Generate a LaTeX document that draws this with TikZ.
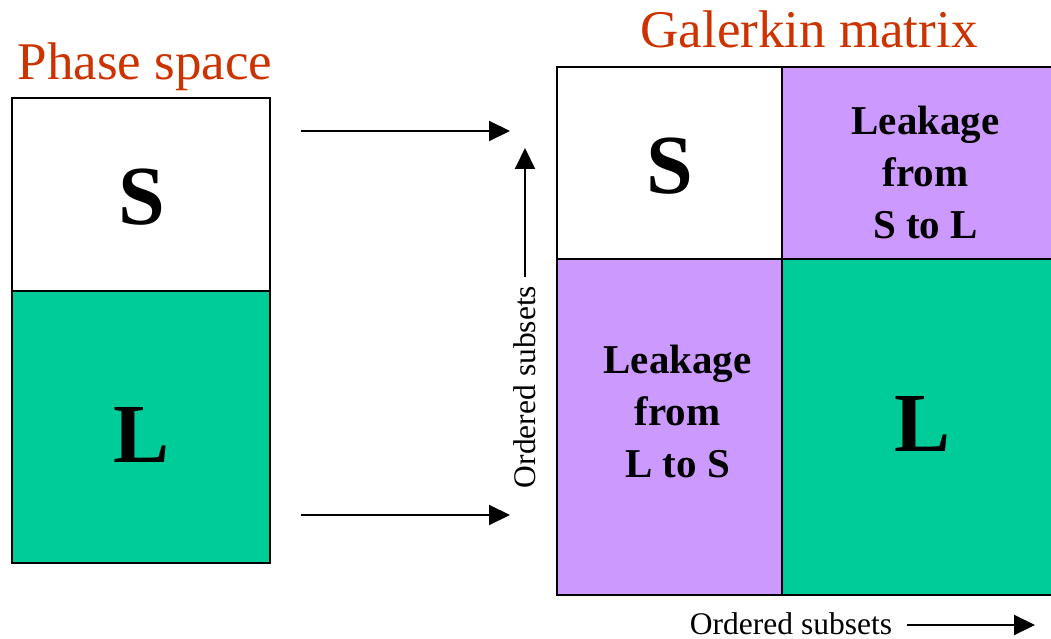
\documentclass[tikz,border=0pt]{standalone}
\usepackage{fontspec}
\setmainfont{Liberation Serif}
\usetikzlibrary{arrows.meta}
\definecolor{titlered}{HTML}{CC3300}
\definecolor{slowgreen}{HTML}{00CC99}
\definecolor{leakviolet}{HTML}{CC99FF}
\begin{document}
\begin{tikzpicture}[x=1pt,y=-1pt,
  cell/.style={draw=black, line width=2pt, inner sep=0pt},
  bigletter/.style={font=\fontsize{84}{84}\selectfont\bfseries, inner sep=0pt},
  leaktext/.style={font=\fontsize{41}{52}\selectfont\bfseries, align=center, inner sep=0pt},
  heading/.style={text=titlered, font=\fontsize{53}{53}\selectfont, anchor=base, inner sep=0pt},
  axislabel/.style={font=\fontsize{31.5}{32}\selectfont, inner sep=0pt},
  flow/.style={line width=2pt, -{Triangle[length=21pt,width=20pt]}}]
\useasboundingbox (0,0) rectangle (1051,639);

% Phase space column
\node[heading] (pstitle) at (145,80) {Phase space};
\node[cell, fill=white, minimum width=258pt, minimum height=193pt] (psS) at (141,194.5) {};
\node[cell, fill=slowgreen, minimum width=258pt, minimum height=272pt] (psL) at (141,427) {};
\node[bigletter] (psStext) at ([shift={(1,3)}]psS.center) {S};
\node[bigletter] (psLtext) at ([shift={(1,8)}]psL.center) {L};

% Galerkin matrix blocks
\node[heading] (gmtitle) at (809,48) {Galerkin matrix};
\node[cell, fill=white, minimum width=225pt, minimum height=192pt] (mSS) at (669.5,163) {};
\node[cell, fill=leakviolet, minimum width=271pt, minimum height=192pt] (mSL) at (917.5,163) {};
\node[cell, fill=leakviolet, minimum width=225pt, minimum height=336pt] (mLS) at (669.5,427) {};
\node[cell, fill=slowgreen, minimum width=271pt, minimum height=336pt] (mLL) at (917.5,427) {};
\node[bigletter] (mSStext) at ([shift={(0,3)}]mSS.center) {S};
\node[bigletter] (mLLtext) at ([shift={(5,-3)}]mLL.center) {L};
\node[leaktext] (mSLtext) at ([shift={(8,9)}]mSL.center) {Leakage\\from\\S to L};
\node[leaktext] (mLStext) at ([shift={(8,-16)}]mLS.center) {Leakage\\from\\L to S};

% Mapping arrows
\coordinate (a1s) at (301,131);
\coordinate (a1e) at (510,131);
\coordinate (a2s) at (301,515);
\coordinate (a2e) at (510,515);
\draw[flow] (a1s) -- (a1e);
\draw[flow] (a2s) -- (a2e);

% Axis labels
\node[axislabel, rotate=90] (vlab) at (525,387) {Ordered subsets};
\coordinate (vtip) at (525,148);
\draw[flow] (vlab.east) ++(0,-9) -- (vtip);
\node[axislabel, anchor=base] (hlab) at (791,634) {Ordered subsets};
\coordinate (htip) at (1035,625);
\draw[flow] (hlab.east |- htip) ++(15,0) -- (htip);
\end{tikzpicture}
\end{document}
